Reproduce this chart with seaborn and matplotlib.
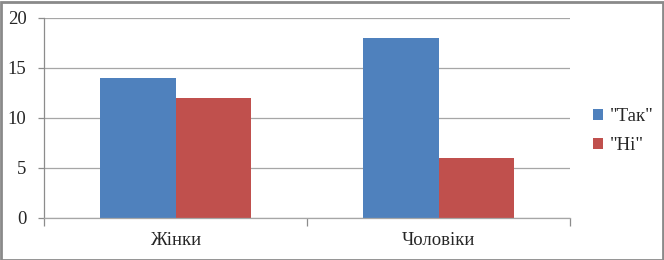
import matplotlib
matplotlib.use("Agg")
import matplotlib.pyplot as plt
import seaborn as sns
import pandas as pd
from matplotlib.patches import Rectangle, Patch

categories = ["Жінки", "Чоловіки"]
series_names = ['"Так"', '"Ні"']
values_yes = [14, 18]
values_no = [12, 6]
yticks = [0, 5, 10, 15, 20]

df = pd.DataFrame({
    "cat": categories * 2,
    "series": [series_names[0]] * 2 + [series_names[1]] * 2,
    "val": values_yes + values_no,
})

sns.set_style("white")
plt.rcParams['font.family'] = ['Liberation Serif', 'DejaVu Serif']
colors = ["#4F81BD", "#C0504D"]
fs = 13.5
FAM = ['Liberation Serif', 'DejaVu Serif']

W, H = 664, 260
fig = plt.figure(figsize=(W / 100, H / 100), dpi=100)
ax = fig.add_axes([44 / W, (H - 218) / H, (570 - 44) / W, 200 / H])

sns.barplot(data=df, x="cat", y="val", hue="series", palette=colors,
            width=0.575, saturation=1, ax=ax, legend=False, edgecolor="none")

ax.set_ylim(0, 20)
ax.set_xlim(-0.5, 1.5)
ax.set_yticks(yticks)
ax.set_yticklabels([str(v) for v in yticks], family=FAM, fontsize=fs)
ax.set_xticks([0, 1])
ax.set_xticklabels(categories, family=FAM, fontsize=fs)
ax.yaxis.grid(True, color="#a6a6a6", linewidth=0.9)
ax.set_axisbelow(True)
ax.set_xlabel("")
ax.set_ylabel("")
for s in ["top", "right"]:
    ax.spines[s].set_visible(False)
ax.spines["left"].set_color("#8c8c8c")
ax.spines["bottom"].set_color("#a6a6a6")
ax.spines["left"].set_linewidth(0.9)
ax.spines["bottom"].set_linewidth(0.9)
ax.tick_params(axis="y", length=4, width=0.9, color="#8c8c8c", pad=8.5, direction="out", left=True)
ax.tick_params(axis="x", which="major", length=0, pad=10)
ax.set_xticks([-0.5, 0.5, 1.5], minor=True)
ax.tick_params(axis="x", which="minor", length=6, width=0.9, color="#8c8c8c", bottom=True, direction="out")

handles = [Patch(facecolor=c, edgecolor="none") for c in colors]
fig.legend(handles, series_names, loc="center left", bbox_to_anchor=(585 / W, 1 - 131 / H),
           frameon=False, prop={'family': FAM, 'size': fs}, handlelength=0.55, handleheight=0.55,
           handletextpad=0.35, labelspacing=0.65, borderaxespad=0)

fig.patches.append(Rectangle((0.5 / W, 0.5 / H), (W - 2) / W, (H - 2) / H, transform=fig.transFigure,
                             fill=False, edgecolor="#8a8a8a", linewidth=2, zorder=10))

fig.savefig("out.png", dpi=100)
